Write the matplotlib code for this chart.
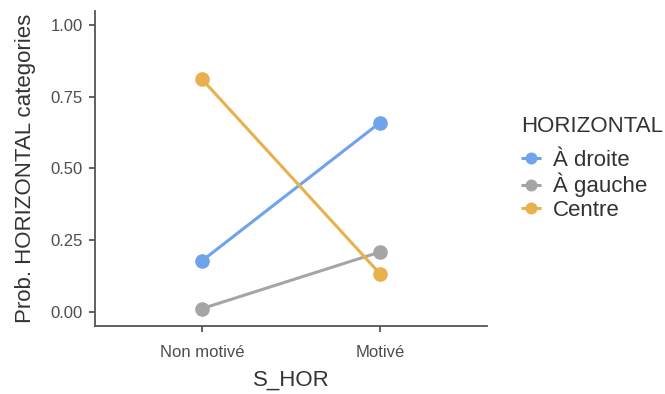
import matplotlib
matplotlib.use("Agg")
import matplotlib.pyplot as plt

plt.rcParams['font.family'] = ['Liberation Sans', 'DejaVu Sans']

groups = ["Non motivé", "Motivé"]
categories = ["À droite", "À gauche", "Centre"]
droite = [0.177, 0.660]
gauche = [0.010, 0.208]
centre = [0.812, 0.132]
colors = ["#6FA3EC", "#A5A5A5", "#E8B14E"]

fig = plt.figure(figsize=(6.65, 3.94), dpi=100)
ax = fig.add_axes([0.143, 0.173, 0.589, 0.799])

xs = [1, 2]
for vals, name, col in zip([droite, gauche, centre], categories, colors):
    ax.plot(xs, vals, color=col, linewidth=2.2, marker="o", markersize=9.5,
            label=name, solid_capstyle="butt")

ax.set_xlim(0.4, 2.6)
ax.set_ylim(-0.05, 1.05)
ax.set_xticks(xs)
ax.set_xticklabels(groups)
ax.set_yticks([0, 0.25, 0.5, 0.75, 1.0])
ax.set_yticklabels(["0.00", "0.25", "0.50", "0.75", "1.00"])

for s in ["top", "right"]:
    ax.spines[s].set_visible(False)
for s in ["left", "bottom"]:
    ax.spines[s].set_color("#555555")
    ax.spines[s].set_linewidth(1.3)
ax.tick_params(colors="#555555", labelcolor="#4D4D4D", labelsize=12, length=4, width=1.3, pad=5)
ax.tick_params(axis="x", pad=10)

ax.set_xlabel("S_HOR", fontsize=16, color="#333333", labelpad=7)
ax.set_ylabel("Prob. HORIZONTAL categories", fontsize=16, color="#333333", labelpad=10)

leg = ax.legend(title="HORIZONTAL", loc="center left", bbox_to_anchor=(1.065, 0.5),
                frameon=False, fontsize=16, title_fontsize=16,
                handlelength=0.9, handletextpad=0.55, labelspacing=0.1,
                markerscale=0.8, borderaxespad=0)
leg._legend_box.align = "left"
leg._legend_box.sep = 9
for t in leg.get_texts():
    t.set_color("#333333")
leg.get_title().set_color("#333333")

fig.savefig("out.png", dpi=100)
